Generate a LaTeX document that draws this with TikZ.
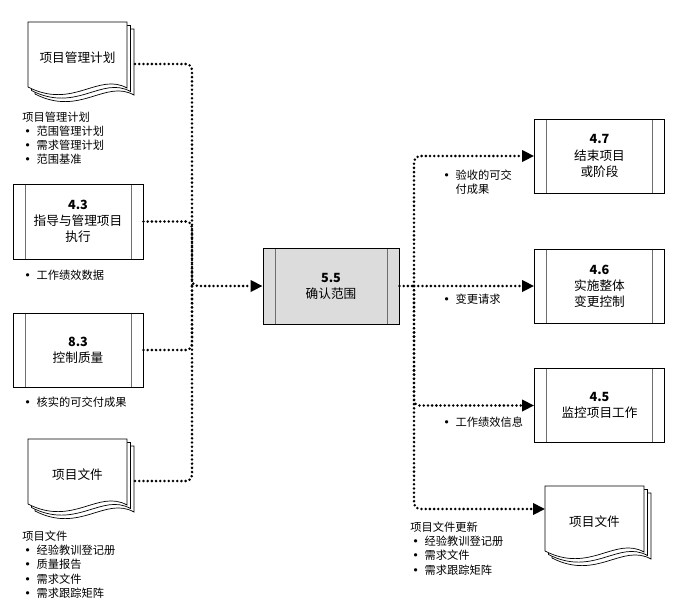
\documentclass[tikz,border=0pt]{standalone}
\usepackage{fontspec}
\setmainfont{Noto Sans CJK SC}
\newfontfamily\bulletfont{DejaVu Sans}
\usetikzlibrary{arrows.meta,positioning}
\definecolor{procgray}{RGB}{220,220,220}
\definecolor{edgegray}{RGB}{110,110,110}
\newcommand{\itm}{\hspace{1.5pt}{\bulletfont •}\hspace{4pt}}
% stacked document symbol: name, left, top, text
\newcommand{\docstack}[4]{%
  \begin{scope}[shift={(#2,#3)}]
    \foreach \s in {7,3.5,0}
      \draw[docpage] (\s,\s+65) -- (\s,\s) -- (\s+99,\s) -- (\s+99,\s+66)
        .. controls (\s+70,\s+50) and (\s+45,\s+88) .. (\s,\s+65);
    \node[doctext] (#1) at (49.5,36) {#4};
    \coordinate (#1-in) at (0,23);
    \coordinate (#1-out) at (107,42);
  \end{scope}}

\begin{document}
\begin{tikzpicture}[
  x=0.025cm, y=-0.025cm,
  procbox/.style={draw, line width=0.6pt, minimum width=3.25cm, minimum height=1.85cm,
    align=center, font=\fontsize{9}{11.5}\selectfont,
    path picture={\draw[edgegray, line width=0.4pt]
      ([xshift=0.3cm]path picture bounding box.north west) -- ([xshift=0.3cm]path picture bounding box.south west)
      ([xshift=-0.3cm]path picture bounding box.north east) -- ([xshift=-0.3cm]path picture bounding box.south east);}},
  docpage/.style={draw, fill=white, line width=0.5pt},
  doctext/.style={font=\fontsize{9}{11}\selectfont},
  note/.style={align=left, anchor=north west, inner sep=0pt, font=\fontsize{8}{10}\selectfont},
  flow/.style={line width=2pt, line cap=round, dash pattern=on 0pt off 3pt, rounded corners=4pt},
  arr/.style={flow, -{Triangle[length=8.5pt, width=8pt]}}
]
\useasboundingbox (0,0) rectangle (683,613);

% inputs
\docstack{planA}{28}{22}{项目管理计划}
\node[note] (planA-list) at (22,112) {项目管理计划\\\itm 范围管理计划\\\itm 需求管理计划\\\itm 范围基准};

\node[procbox, minimum height=1.875cm] (manage) at (78,221.5) {\textbf{4.3}\\指导与管理项目\\执行};
\node[note] (manage-list) at (22,270) {\itm 工作绩效数据};

\node[procbox] (quality) at (78,350) {\textbf{8.3}\\控制质量};
\node[note] (quality-list) at (22,397) {\itm 核实的可交付成果};

\docstack{docsA}{28}{439}{项目文件}
\node[note] (docsA-list) at (22,531) {项目文件\\\itm 经验教训登记册\\\itm 质量报告\\\itm 需求文件\\\itm 需求跟踪矩阵};

% process
\node[procbox, fill=procgray, minimum width=3.4cm, minimum height=1.9cm] (verify) at (331,286) {\textbf{5.5}\\确认范围};

% outputs
\node[procbox] (close) at (599.5,156) {\textbf{4.7}\\结束项目\\或阶段};
\node[note] (close-list) at (441,170) {\itm 验收的可交\\\hphantom{\itm}付成果};

\node[procbox] (change) at (599.5,286) {\textbf{4.6}\\实施整体\\变更控制};
\node[note] (change-list) at (441,294) {\itm 变更请求};

\node[procbox] (monitor) at (599.5,405.5) {\textbf{4.5}\\监控项目工作};
\node[note] (monitor-list) at (441,417) {\itm 工作绩效信息};

\docstack{docsB}{545}{486}{项目文件}
\node[note] (docsB-list) at (410,522) {项目文件更新\\\itm 经验教训登记册\\\itm 需求文件\\\itm 需求跟踪矩阵};

\coordinate (merge) at (192,286);
\coordinate (split) at (414,286);

\draw[arr] (planA-out) -| (merge) -- (verify.west);
\draw[flow] (manage.east) -| (merge);
\draw[flow] (quality.east) -| (merge);
\draw[flow] (docsA-out) -| (merge);

\draw[flow] (verify.east) -- (split);
\draw[arr] (split) |- (close.west);
\draw[arr] (split) -- (change.west);
\draw[arr] (split) |- (monitor.west);
\draw[arr] (split) |- (docsB-in);
\end{tikzpicture}
\end{document}
